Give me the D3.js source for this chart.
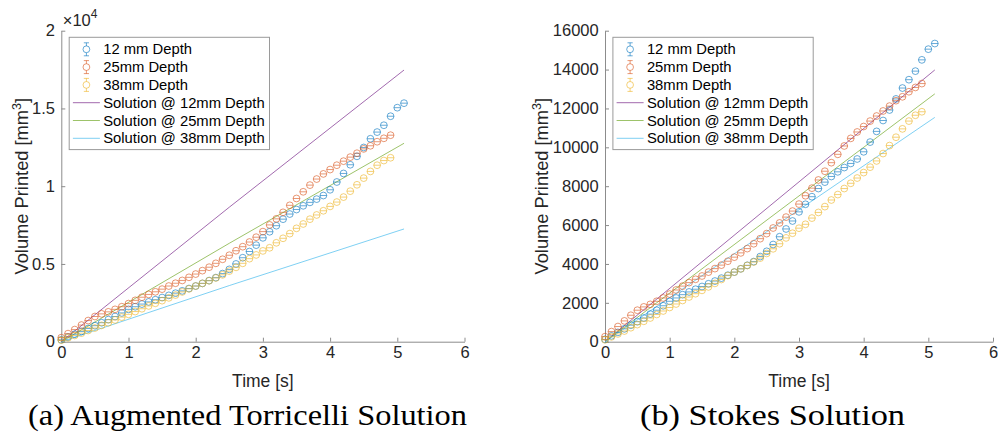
<!DOCTYPE html>
<html>
<head>
<meta charset="utf-8">
<script src="https://cdn.jsdelivr.net/npm/d3@7/dist/d3.min.js"></script>
<style>
  body { margin: 0; background: #fff; }
  svg { display: block; }
</style>
</head>
<body>
<svg id="fig" width="998" height="438"></svg>
<script>
// ---- measured volumes [mm^3] for each nozzle depth ----
const time12mm = [0,0.1,0.2,0.3,0.4,0.5,0.6,0.7,0.8,0.9,1.0,1.1,1.2,1.3,1.4,1.5,1.6,1.7,1.8,1.9,
                  2.0,2.1,2.2,2.3,2.4,2.5,2.6,2.7,2.8,2.9,3.0,3.1,3.2,3.3,3.4,3.5,3.6,3.7,3.8,3.9,
                  4.0,4.1,4.2,4.3,4.4,4.5,4.6,4.7,4.8,4.9,5.0,5.1];
const volume12mm = [120,300,480,660,850,1030,1220,1420,1620,1850,2080,2250,2420,2560,2700,2840,2980,3120,3270,3420,
                    3580,3750,3930,4120,4380,4650,5000,5400,5800,6210,6680,7070,7460,7880,8210,8500,8740,8960,9170,9400,
                    9770,10270,10820,11380,11920,12490,13050,13480,13920,14500,15050,15340];

const time25mm = [0,0.1,0.2,0.3,0.4,0.5,0.6,0.7,0.8,0.9,1.0,1.1,1.2,1.3,1.4,1.5,1.6,1.7,1.8,1.9,
                  2.0,2.1,2.2,2.3,2.4,2.5,2.6,2.7,2.8,2.9,3.0,3.1,3.2,3.3,3.4,3.5,3.6,3.7,3.8,3.9,
                  4.0,4.1,4.2,4.3,4.4,4.5,4.6,4.7,4.8,4.9];
const volume25mm = [260,520,780,1070,1360,1620,1790,1920,2080,2250,2450,2660,2860,3040,3210,3380,3580,3760,3940,4140,
                    4350,4570,4790,5040,5300,5560,5850,6110,6410,6720,7080,7510,7900,8320,8770,9210,9640,10070,10460,10790,
                    11070,11350,11610,11870,12120,12400,12600,12860,13080,13280];

const time38mm = [0,0.1,0.2,0.3,0.4,0.5,0.6,0.7,0.8,0.9,1.0,1.1,1.2,1.3,1.4,1.5,1.6,1.7,1.8,1.9,
                  2.0,2.1,2.2,2.3,2.4,2.5,2.6,2.7,2.8,2.9,3.0,3.1,3.2,3.3,3.4,3.5,3.6,3.7,3.8,3.9,
                  4.0,4.1,4.2,4.3,4.4,4.5,4.6,4.7,4.8,4.9];
const volume38mm = [100,250,400,550,720,880,1050,1220,1400,1580,1760,1940,2120,2300,2470,2640,2820,3000,3200,3400,
                    3580,3750,3920,4100,4300,4540,4780,5040,5340,5580,5840,6040,6360,6650,6950,7290,7570,7880,8150,8420,
                    8700,8980,9300,9680,10090,10520,10950,11350,11650,11830];

// ---- model predictions ----
const torricelliTime = [0, 2.5, 5.1];
const torricelli12mm = [0, 8650, 17470];
const torricelli25mm = [0, 6330, 12760];
const torricelli38mm = [0, 3610, 7250];

const stokesTime = [0, 5.1];
const stokes12mm = [0, 13980];
const stokes25mm = [0, 12750];
const stokes38mm = [0, 11540];

// ---- axes ticks and labels ----
const timeTicks = [0, 1, 2, 3, 4, 5, 6];
const torricelliTicks = [0, 5000, 10000, 15000, 20000];
const stokesTicks = [0, 2000, 4000, 6000, 8000, 10000, 12000, 14000, 16000];
const legendLabels = ["12 mm Depth", "25mm Depth", "38mm Depth",
                      "Solution @ 12mm Depth", "Solution @ 25mm Depth", "Solution @ 38mm Depth"];
const captions = ["(a) Augmented Torricelli Solution", "(b) Stokes Solution"];

// MATLAB default line colours
const markerColors = ["#0072BD", "#D95319", "#EDB120"];
const lineColors = ["#7E2F8E", "#77AC30", "#4DBEEE"];

const FONT = "'Liberation Sans', Arial, Helvetica, sans-serif";
const TEXT = "#262626";
const AXIS = "#8c8c8c";

const svg = d3.select("#fig");

const panels = [
  {
    left: 61.3, right: 464.5, top: 30.7, bottom: 341.7, labelX: 28,
    yMax: 20000, yTicks: torricelliTicks, fmt: d => d / 1e4, exponent: true,
    lineTime: torricelliTime, lines: [torricelli12mm, torricelli25mm, torricelli38mm],
    caption: captions[0], capX: 28, capW: 439
  },
  {
    left: 605, right: 993, top: 30.7, bottom: 341.7, labelX: 548,
    yMax: 16000, yTicks: stokesTicks, fmt: d => String(d), exponent: false,
    lineTime: stokesTime, lines: [stokes12mm, stokes25mm, stokes38mm],
    caption: captions[1], capX: 640, capW: 265
  }
];

const series = [
  { t: time12mm, v: volume12mm },
  { t: time25mm, v: volume25mm },
  { t: time38mm, v: volume38mm }
];

function errorMarker(g, cx, cy, color, capHalf) {
  g.append("line").attr("x1", cx - capHalf).attr("x2", cx + capHalf)
    .attr("y1", cy).attr("y2", cy)
    .attr("stroke", color).attr("stroke-width", 0.8).attr("stroke-opacity", 0.75);
  g.append("circle").attr("cx", cx).attr("cy", cy).attr("r", 3.4)
    .attr("fill", "none").attr("stroke", color).attr("stroke-width", 0.8).attr("stroke-opacity", 0.75);
}

panels.forEach(p => {
  const x = d3.scaleLinear().domain([0, 6]).range([p.left, p.right]);
  const y = d3.scaleLinear().domain([0, p.yMax]).range([p.bottom, p.top]);
  const g = svg.append("g");

  // axes
  const xAxis = g.append("g").attr("transform", `translate(0,${p.bottom})`)
    .call(d3.axisBottom(x).tickValues(timeTicks).tickFormat(d3.format("d"))
      .tickSizeInner(-4).tickSizeOuter(0).tickPadding(5));
  const yAxis = g.append("g").attr("transform", `translate(${p.left},0)`)
    .call(d3.axisLeft(y).tickValues(p.yTicks).tickFormat(p.fmt).tickSizeInner(-4).tickSizeOuter(0).tickPadding(6.3));
  [xAxis, yAxis].forEach(a => {
    a.select(".domain").attr("stroke", AXIS).attr("stroke-width", 1);
    a.selectAll(".tick line").attr("stroke", AXIS).attr("stroke-width", 1);
    a.selectAll(".tick text").attr("fill", TEXT).attr("font-family", FONT).attr("font-size", 16.5);
  });

  if (p.exponent) {
    const e = g.append("text").attr("x", p.left + 1.5).attr("y", 26)
      .attr("font-family", FONT).attr("font-size", 16.5).attr("fill", TEXT);
    e.append("tspan").text("\u00d710");
    e.append("tspan").attr("font-size", 12).attr("dy", -8).text("4");
  }

  // axis labels
  g.append("text").attr("x", (p.left + p.right) / 2).attr("y", 387)
    .attr("text-anchor", "middle").attr("font-family", FONT).attr("font-size", 17.5)
    .attr("fill", TEXT).text("Time [s]");
  const yl = g.append("text")
    .attr("transform", `translate(${p.labelX},${(p.top + p.bottom) / 2}) rotate(-90)`)
    .attr("text-anchor", "middle").attr("font-family", FONT).attr("font-size", 18.3)
    .attr("fill", TEXT);
  yl.append("tspan").text("Volume Printed [mm");
  yl.append("tspan").attr("font-size", 12.5).attr("dy", -7.5).text("3");
  yl.append("tspan").attr("dy", 7.5).text("]");

  // model lines
  const lineGen = d3.line().x(d => x(d[0])).y(d => y(d[1]));
  p.lines.forEach((vals, i) => {
    g.append("path").datum(p.lineTime.map((t, k) => [t, vals[k]]))
      .attr("d", lineGen).attr("fill", "none")
      .attr("stroke", lineColors[i]).attr("stroke-width", 0.9).attr("stroke-opacity", 0.8);
  });

  // measured points (error bars are smaller than the markers)
  series.forEach((s, i) => {
    const sg = g.append("g");
    s.t.forEach((t, k) => errorMarker(sg, x(t), y(s.v[k]), markerColors[i], 3.4));
  });

  // legend
  const lx = p.left + 7.9, ly = 37.3, lw = 200.3, lh = 112.3;
  const lg = g.append("g");
  lg.append("rect").attr("x", lx).attr("y", ly).attr("width", lw).attr("height", lh)
    .attr("fill", "#fff").attr("stroke", "#9a9a9a").attr("stroke-width", 1);
  legendLabels.forEach((lab, i) => {
    const ry = ly + 12 + i * 17.8;
    if (i < 3) {
      const c = markerColors[i];
      const mx = lx + 17.2;
      lg.append("line").attr("x1", mx).attr("x2", mx).attr("y1", ry - 6.5).attr("y2", ry + 6.5)
        .attr("stroke", c).attr("stroke-width", 0.8).attr("stroke-opacity", 0.75);
      [ry - 6.5, ry + 6.5].forEach(cy => lg.append("line")
        .attr("x1", mx - 2.6).attr("x2", mx + 2.6).attr("y1", cy).attr("y2", cy)
        .attr("stroke", c).attr("stroke-width", 0.8).attr("stroke-opacity", 0.75));
      lg.append("circle").attr("cx", mx).attr("cy", ry).attr("r", 3.4).attr("fill", "#fff")
        .attr("stroke", c).attr("stroke-width", 0.8).attr("stroke-opacity", 0.75);
    } else {
      lg.append("line").attr("x1", lx + 3.7).attr("x2", lx + 30.7).attr("y1", ry).attr("y2", ry)
        .attr("stroke", lineColors[i - 3]).attr("stroke-width", 0.9).attr("stroke-opacity", 0.8);
    }
    lg.append("text").attr("x", lx + 34).attr("y", ry).attr("dy", "0.35em")
      .attr("font-family", FONT).attr("font-size", 14.8).attr("fill", "#000").text(lab);
  });

  // sub-figure caption
  svg.append("text").attr("x", p.capX).attr("y", 425)
    .attr("font-family", "'Liberation Serif', 'DejaVu Serif', serif").attr("font-size", 29)
    .attr("fill", "#000").attr("textLength", p.capW).attr("lengthAdjust", "spacingAndGlyphs")
    .text(p.caption);
});
</script>
</body>
</html>
